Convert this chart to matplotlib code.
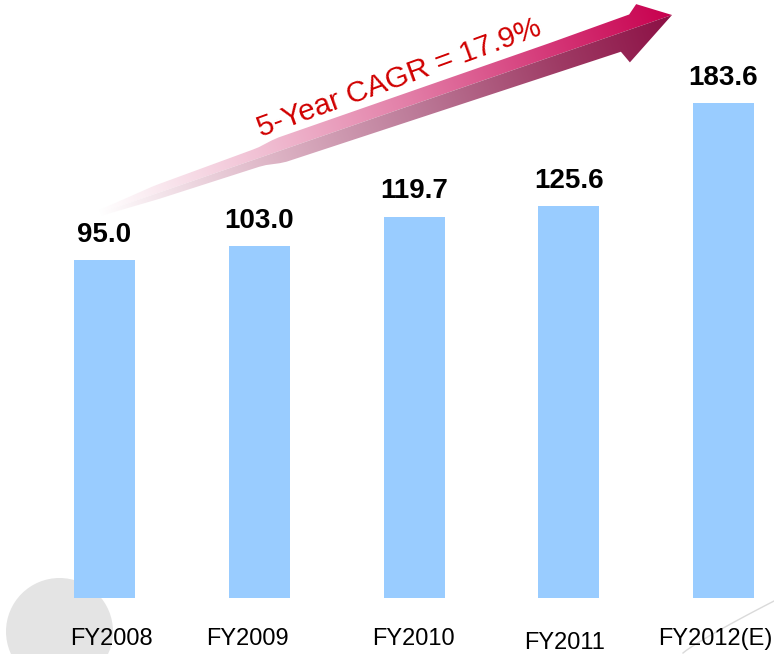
import numpy as np
import matplotlib
matplotlib.use("Agg")
import matplotlib.pyplot as plt
from matplotlib.patches import Polygon, Circle

plt.rcParams['font.family'] = ['Liberation Sans', 'DejaVu Sans']

# ---- data ----
categories = ["FY2008", "FY2009", "FY2010", "FY2011", "FY2012(E)"]
values = [95.0, 103.0, 119.7, 125.6, 183.6]
cagr_label = "5-Year CAGR = 17.9%"

# ---- layout / style ----
W, H = 774, 654
BAR_COLOR = "#99CCFF"
BASE = -95.6          # axis value at the bar baseline
TOP = 241.9
label_dx = [4.7, -8.5, -0.4, -2.7, -5.8]     # points
label_dy = [-33.8, -33.8, -33.8, -37.0, -33.8]

fig = plt.figure(figsize=(W / 100, H / 100), dpi=100)

# background decoration axes in pixel coordinates
bg = fig.add_axes([0, 0, 1, 1], zorder=0)
bg.set_xlim(0, W)
bg.set_ylim(H, 0)
bg.axis("off")

bg.add_patch(Circle((59.5, 631.5), 53.5, color="#E4E4E4", lw=0, zorder=1))
arc_t = np.linspace(0, 1, 30)
bg.plot(683 + 93 * arc_t, 653 - 53 * arc_t ** 0.9, color="#DADADA", lw=1.0, zorder=1)

# arrow geometry (pixels)
P0 = np.array([100.0, 213.0])
P1 = np.array([672.0, 15.0])
L = np.linalg.norm(P1 - P0)
u = (P1 - P0) / L
n = np.array([-u[1], u[0]])
if n[1] < 0:
    n = -n

def pt(s, d):
    return P0 + u * s + n * d

def du(s):
    return np.interp(s, [0, 60, 170, 190, 480, 565], [-3, -8, -10, -13, -13.5, -14.5])

def dl(s):
    return np.interp(s, [0, 60, 170, 190, 480, 545], [3, 6, 8.5, 12.5, 17, 18])

ss = np.linspace(0, 565, 80)
upper = [pt(s, du(s)) for s in ss] + [pt(575, -22), pt(L, 0)] + [pt(s, 0) for s in ss[::-1]]
ss2 = np.linspace(0, 545, 80)
lower = [pt(s, 0) for s in ss2] + [pt(L, 0), pt(550, 31), pt(545, dl(545))] + \
        [pt(s, dl(s)) for s in ss2[::-1]]

yy, xx = np.mgrid[0:H, 0:W] + 0.5
S = (xx - P0[0]) * u[0] + (yy - P0[1]) * u[1]
T = np.clip(S / L, 0, 1)

def hexrgb(h):
    h = h.lstrip('#')
    return np.array([int(h[i:i + 2], 16) / 255 for i in (0, 2, 4)])

def grad_img(stops):
    ts = [a for a, _ in stops]
    cols = np.array([hexrgb(c) for _, c in stops])
    img = np.zeros((H, W, 3))
    for k in range(3):
        img[..., k] = np.interp(T, ts, cols[:, k])
    return img

up_img = grad_img([(0, "#FFFFFF"), (0.08, "#FBEEF3"), (0.3, "#F0BCD1"),
                   (0.55, "#E27CA6"), (0.8, "#D43576"), (1.0, "#C8004E")])
lo_img = grad_img([(0, "#FFFFFF"), (0.08, "#F6EAEF"), (0.3, "#DDB4C5"),
                   (0.55, "#BC7A98"), (0.8, "#9E3A64"), (1.0, "#8C0F44")])

for poly_pts, img in ((upper, up_img), (lower, lo_img)):
    poly = Polygon(np.array(poly_pts), closed=True, facecolor="none", edgecolor="none",
                   transform=bg.transData)
    bg.add_patch(poly)
    im = bg.imshow(img, extent=(0, W, H, 0), origin="upper", interpolation="bilinear",
                   zorder=2, aspect="auto")
    im.set_clip_path(poly)

bg.text(402, 86, cagr_label, rotation=20, rotation_mode="anchor", ha="center", va="baseline",
        color="#D00000", fontsize=21.5, zorder=5)
bg.set_xlim(0, W)
bg.set_ylim(H, 0)

# main bar axes
ax = fig.add_axes([0, 56 / H, 1, 598 / H], zorder=1)
ax.patch.set_alpha(0)
x = np.arange(len(categories))
spacing = 154.75
ax.set_xlim(-104.5 / spacing, (W - 104.5) / spacing)
ax.set_ylim(BASE, TOP)
heights = np.array(values) - BASE
ax.bar(x, heights, bottom=BASE, width=61 / spacing, color=BAR_COLOR, linewidth=0)
for xi, v in zip(x, values):
    ax.annotate(f"{v:.1f}", (xi, v), xytext=(0, 13), textcoords="offset points",
                ha="center", va="baseline", fontsize=20, fontweight="bold", color="black")
for xi, lab, dx, dy in zip(x, categories, label_dx, label_dy):
    ax.annotate(lab, (xi, 0), xycoords=("data", "axes fraction"), xytext=(dx, dy),
                textcoords="offset points", ha="center", va="baseline", fontsize=17,
                color="black", annotation_clip=False)
ax.axis("off")

fig.savefig("out.png", dpi=100)
